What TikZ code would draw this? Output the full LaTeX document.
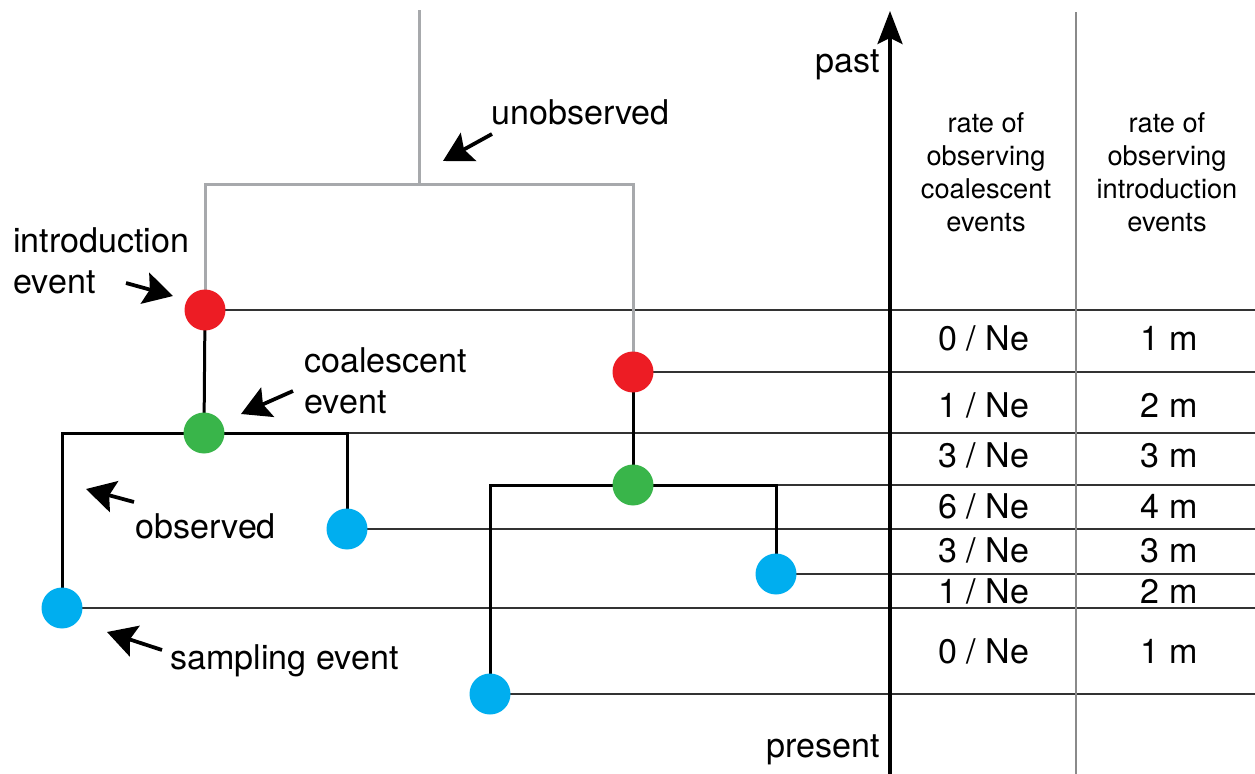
\documentclass[tikz,border=0pt]{standalone}
\usepackage{fontspec}
\setmainfont{TeX Gyre Heros}
\usetikzlibrary{arrows.meta}
\pgfdeclarelayer{bg}
\pgfsetlayers{bg,main}
\definecolor{introred}{HTML}{ED1C24}
\definecolor{coalgreen}{HTML}{39B54A}
\definecolor{sampblue}{HTML}{00AEEF}
\definecolor{hiddengray}{HTML}{A7A9AC}
\definecolor{rulegray}{HTML}{8A8A8A}
\tikzset{
  event/.style={circle, minimum size=0.82cm, inner sep=0pt, draw=none},
  intro/.style={event, fill=introred},
  coal/.style={event, fill=coalgreen},
  samp/.style={event, fill=sampblue},
  observedline/.style={line width=0.06cm, black},
  hiddenline/.style={line width=0.06cm, hiddengray},
  timeline/.style={line width=0.03cm, black!80},
  lbl/.style={font=\fontsize{19.4}{23.3}\selectfont, anchor=base west, inner sep=0pt, align=left},
  axislbl/.style={font=\fontsize{19.4}{23.3}\selectfont, anchor=base east, inner sep=0pt},
  head/.style={font=\fontsize{15.5}{18.6}\selectfont, anchor=base, inner sep=0pt, align=center},
  rate/.style={font=\fontsize{19.4}{23.3}\selectfont, anchor=base, inner sep=0pt},
  pointer/.style={line width=0.075cm, -{Stealth[length=0.58cm, width=0.64cm, inset=0.1cm]}},
}
\begin{document}
\begin{tikzpicture}[x=0.02cm, y=-0.02cm]
\useasboundingbox (0,0) rectangle (1255,774);

% events of the tree
\node[intro] (r1) at (205,310) {};
\node[intro] (r2) at (633,372) {};
\node[coal]  (c1) at (204,433) {};
\node[coal]  (c2) at (633,485) {};
\node[samp]  (s2) at (347,529) {};
\node[samp]  (s3) at (776,574) {};
\node[samp]  (s1) at (62,608) {};
\node[samp]  (s4) at (490,694) {};

\coordinate (utop)  at (419,10);
\coordinate (ujoin) at (419,184);
\coordinate (E) at (1255,0);
\coordinate (axbot) at (890,774);
\coordinate (axtop) at (890,11);
\coordinate (divtop) at (1076,12);
\coordinate (divbot) at (1076,774);

\begin{pgfonlayer}{bg}
  % time slices
  \draw[timeline] (r1.center) -- (r1 -| E);
  \draw[timeline] (r2.center) -- (r2 -| E);
  \draw[timeline] (c1 -| s2) -- (c1 -| E);
  \draw[timeline] (c2 -| s3) -- (c2 -| E);
  \draw[timeline] (s2.center) -- (s2 -| E);
  \draw[timeline] (s3.center) -- (s3 -| E);
  \draw[timeline] (s1.center) -- (s1 -| E);
  \draw[timeline] (s4.center) -- (s4 -| E);
  % unobserved part
  \draw[hiddenline] (utop) -- (ujoin);
  \draw[hiddenline, line join=miter] (r1.center) |- (ujoin) -| (r2.center);
  % observed part
  \draw[observedline] (r1.center) -- (c1.center);
  \draw[observedline] (r2.center) -- (c2.center);
  \draw[observedline, line join=miter] (s1.center) |- (c1.center) -| (s2.center);
  \draw[observedline, line join=miter] (s4.center) |- (c2.center) -| (s3.center);
\end{pgfonlayer}

% time axis and column divider
\draw[line width=0.07cm, -{Stealth[length=0.66cm, width=0.5cm, inset=0.12cm]}] (axbot) -- (axtop);
\draw[line width=0.025cm, rulegray] (divbot) -- (divtop);
\node[axislbl] (past) at (880,72) {past};
\node[axislbl] (present) at (880,757) {present};

% annotations (multi-line labels are placed by their last baseline)
\node[lbl] (lunobs) at (491,124) {unobserved};
\node[lbl] (lintro) at (13,293) {introduction\\event};
\node[lbl] (lcoal) at (304,413) {coalescent\\event};
\node[lbl] (lobs) at (135,538) {observed};
\node[lbl] (lsamp) at (170,669) {sampling event};

\coordinate (a1t) at (492,134); \coordinate (a1h) at (443,161);
\coordinate (a2t) at (126,283); \coordinate (a2h) at (173,296);
\coordinate (a3t) at (293,391); \coordinate (a3h) at (241,414);
\coordinate (a4t) at (134,502); \coordinate (a4h) at (86,489);
\coordinate (a5t) at (162,650); \coordinate (a5h) at (107,632);
\draw[pointer] (a1t) -- (a1h);
\draw[pointer] (a2t) -- (a2h);
\draw[pointer] (a3t) -- (a3h);
\draw[pointer] (a4t) -- (a4h);
\draw[pointer] (a5t) -- (a5h);

% rate table
\node[head] (hcoal) at (986,231) {rate of\\observing\\coalescent\\events};
\node[head] (hintro) at (1167,231) {rate of\\observing\\introduction\\events};

\node[rate] (k1) at (984,350) {0 / Ne};
\node[rate] (k2) at (984,417) {1 / Ne};
\node[rate] (k3) at (984,467) {3 / Ne};
\node[rate] (k4) at (984,518) {6 / Ne};
\node[rate] (k5) at (984,562) {3 / Ne};
\node[rate] (k6) at (984,603) {1 / Ne};
\node[rate] (k7) at (984,663) {0 / Ne};

\node[rate] (m1) at (1169,350) {1 m};
\node[rate] (m2) at (1169,417) {2 m};
\node[rate] (m3) at (1169,467) {3 m};
\node[rate] (m4) at (1169,518) {4 m};
\node[rate] (m5) at (1169,562) {3 m};
\node[rate] (m6) at (1169,603) {2 m};
\node[rate] (m7) at (1169,663) {1 m};
\end{tikzpicture}
\end{document}
